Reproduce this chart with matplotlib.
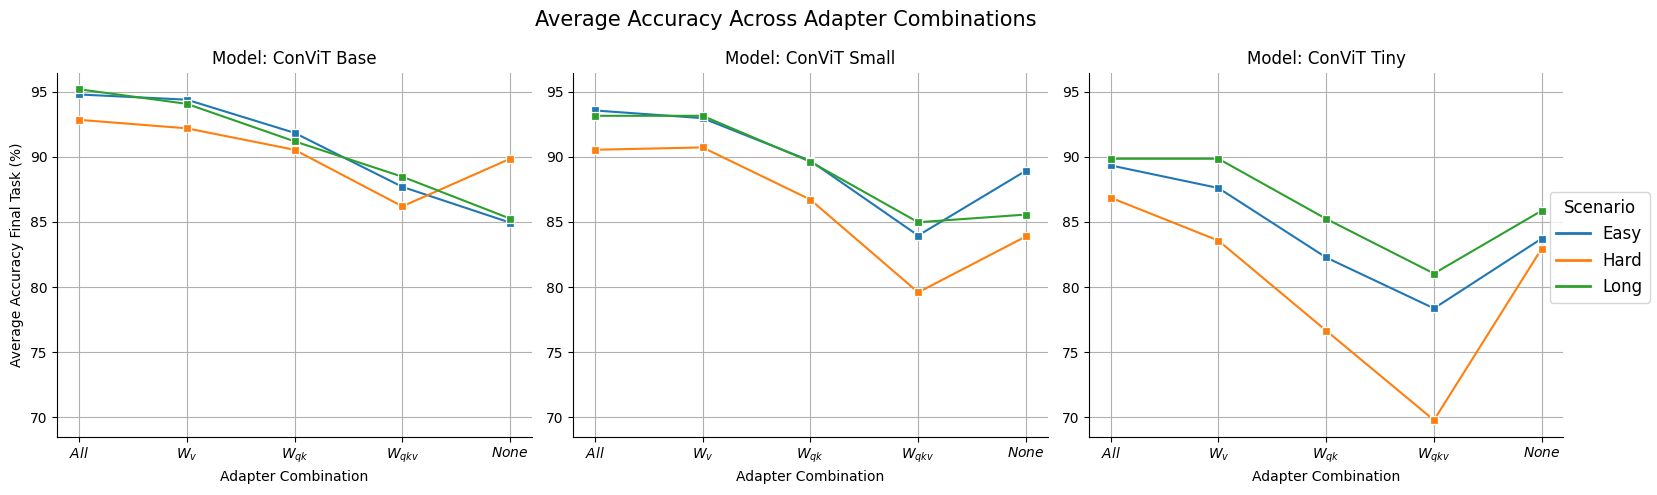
import matplotlib
matplotlib.use("Agg")
import matplotlib.pyplot as plt
from matplotlib.lines import Line2D

combos = ["All", "Wv", "Wqk", "Wqkv", "None"]
tick_labels = [r"$All$", r"$W_v$", r"$W_{qk}$", r"$W_{qkv}$", r"$None$"]
models = ["ConViT Base", "ConViT Small", "ConViT Tiny"]
scenarios = ["Easy", "Hard", "Long"]
colors = ["#1f77b4", "#ff7f0e", "#2ca02c"]

base_easy = [94.8, 94.4, 91.85, 87.7, 84.95]
base_hard = [92.85, 92.2, 90.55, 86.2, 89.86]
base_long = [95.2, 94.08, 91.2, 88.48, 85.26]

small_easy = [93.57, 92.98, 89.7, 83.96, 88.94]
small_hard = [90.55, 90.73, 86.72, 79.59, 83.89]
small_long = [93.16, 93.16, 89.63, 84.98, 85.57]

tiny_easy = [89.35, 87.61, 82.27, 78.36, 83.73]
tiny_hard = [86.87, 83.57, 76.65, 69.77, 82.96]
tiny_long = [89.86, 89.86, 85.24, 81.04, 85.87]

data = {
    "ConViT Base": [base_easy, base_hard, base_long],
    "ConViT Small": [small_easy, small_hard, small_long],
    "ConViT Tiny": [tiny_easy, tiny_hard, tiny_long],
}

fig, axes = plt.subplots(1, 3, figsize=(16.58, 4.95), dpi=100, sharey=True)
fig.subplots_adjust(left=0.0346, right=0.9429, bottom=0.1178, top=0.8531, wspace=0.0875)

x = list(range(len(combos)))
for ax, model in zip(axes, models):
    for vals, c, s in zip(data[model], colors, scenarios):
        ax.plot(x, vals, color=c, lw=1.5, marker="s", ms=6,
                mec="white", mew=0.9, label=s, zorder=3)
    ax.set_xticks(x)
    ax.set_xticklabels(tick_labels, fontsize=10)
    ax.set_xlim(-0.2, 4.2)
    ax.grid(True, color="#b0b0b0", lw=0.8)
    ax.set_axisbelow(True)
    ax.spines["top"].set_visible(False)
    ax.spines["right"].set_visible(False)
    ax.set_title(f"Model: {model}", fontsize=12)
    ax.set_xlabel("Adapter Combination", fontsize=10)
    ax.tick_params(labelleft=True, labelsize=10)

axes[0].set_yticks([70, 75, 80, 85, 90, 95])
axes[0].set_ylabel("Average Accuracy Final Task (%)", fontsize=10)

handles = [Line2D([0], [0], color=c, lw=2) for c in colors]
fig.legend(handles, scenarios, title="Scenario", loc="center right",
           fontsize=12, title_fontsize=12)

fig.suptitle("Average Accuracy Across Adapter Combinations", fontsize=15, x=0.474)

fig.savefig("out.png", dpi=100)
